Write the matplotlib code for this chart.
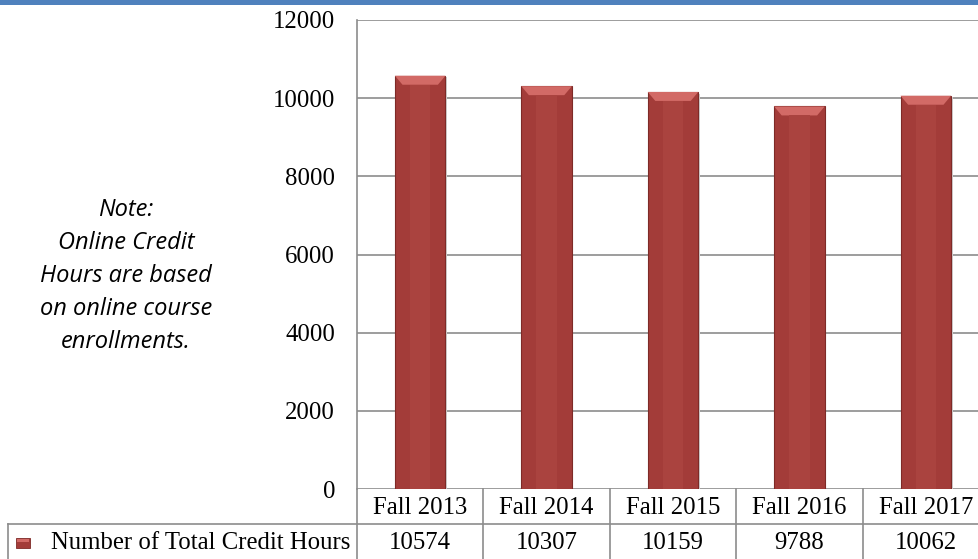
import matplotlib
matplotlib.use("Agg")
import matplotlib.pyplot as plt
from matplotlib.lines import Line2D
from matplotlib.patches import Rectangle, Polygon
from matplotlib.transforms import blended_transform_factory, Affine2D

categories = ["Fall 2013", "Fall 2014", "Fall 2015", "Fall 2016", "Fall 2017"]
values = [10574, 10307, 10159, 9788, 10062]
series_name = "Number of Total Credit Hours"
yticks = [0, 2000, 4000, 6000, 8000, 10000, 12000]
note_lines = ["Note:", "Online Credit", "Hours are based", "on online course", "enrollments."]

W, H = 979, 559
fig = plt.figure(figsize=(W / 100, H / 100), dpi=100)
fig.patch.set_facecolor("white")

# pixel transform for figure (origin top-left)
px = Affine2D().scale(1 / W, -1 / H).translate(0, 1) + fig.transFigure

FS = 17.8
L, R, T, B = 357, 989, 20, 489
ax = fig.add_axes([L / W, 1 - B / H, (R - L) / W, (B - T) / H])
ax.set_xlim(-0.5, len(categories) - 0.5)
ax.set_ylim(0, 12000)
ax.set_yticks(yticks)
ax.set_yticklabels([str(v) for v in yticks], family="Liberation Serif", fontsize=FS)
ax.tick_params(axis="y", length=0, pad=15.8)
ax.set_xticks([])
for s in ["top", "right", "bottom"]:
    ax.spines[s].set_visible(False)
ax.spines["left"].set_color("#8c8c8c")
ax.spines["left"].set_linewidth(1.2)
ax.yaxis.grid(True, color="#8c8c8c", linewidth=1.2)
ax.set_axisbelow(True)

gray = "#8c8c8c"
bar_w = 0.40
bars = ax.bar(range(len(categories)), values, width=bar_w, color="#A33C39",
              edgecolor="#7E2A27", linewidth=0.8, zorder=3)
bev_h = 230
bev_d = 0.06
for b in bars:
    x0, w, h = b.get_x(), b.get_width(), b.get_height()
    ax.add_patch(Polygon([(x0, h), (x0 + w, h), (x0 + w - bev_d, h - bev_h), (x0 + bev_d, h - bev_h)],
                         closed=True, facecolor="#D26A66", edgecolor="none", zorder=4))
    ax.add_patch(Rectangle((x0 + w * 0.3, 0), w * 0.4, h - bev_h, facecolor="#AA433F",
                           edgecolor="none", zorder=4))
    ax.add_patch(Rectangle((x0 + w, 0), 0.012, h - 40, facecolor="#cfcfcf",
                           edgecolor="none", zorder=2))

# top blue band
fig.add_artist(Rectangle((0, 0), W, 5, transform=px, facecolor="#4F81BD", edgecolor="none"))

# data table lines
def line(x0, y0, x1, y1):
    fig.add_artist(Line2D([x0, x1], [y0, y1], transform=px, color=gray, linewidth=1.2))

row1, row2, row3 = 489, 524, 560
line(8, row2, W, row2)
line(8, row2, 8, row3)
line(L, row1, L, row3)
xt = blended_transform_factory(ax.transData, px)
for i in range(1, len(categories)):
    xb = i - 0.5
    fig.add_artist(Line2D([xb, xb], [row1, row3], transform=xt, color=gray, linewidth=1.2))
for i, (c, v) in enumerate(zip(categories, values)):
    fig.text(i, (row1 + row2) / 2 + 1, c, transform=xt, ha="center", va="center",
             family="Liberation Serif", fontsize=FS)
    fig.text(i, (row2 + row3) / 2 + 1, str(v), transform=xt, ha="center", va="center",
             family="Liberation Serif", fontsize=FS)

# legend key + series name
fig.add_artist(Rectangle((16, 538), 14, 10, transform=px, facecolor="#A33C39", edgecolor="#7E2A27", linewidth=0.6))
fig.add_artist(Rectangle((17, 539), 12, 3, transform=px, facecolor="#D26A66", edgecolor="none"))
fig.text(350, (row2 + row3) / 2 + 1, series_name, transform=px, ha="right", va="center",
         family="Liberation Serif", fontsize=FS)

# note
for k, t in enumerate(note_lines):
    fig.text(126, 210 + k * 33, t, transform=px, ha="center", va="center",
             family="Open Sans", style="italic", fontsize=17)

fig.savefig("out.png", dpi=100)
